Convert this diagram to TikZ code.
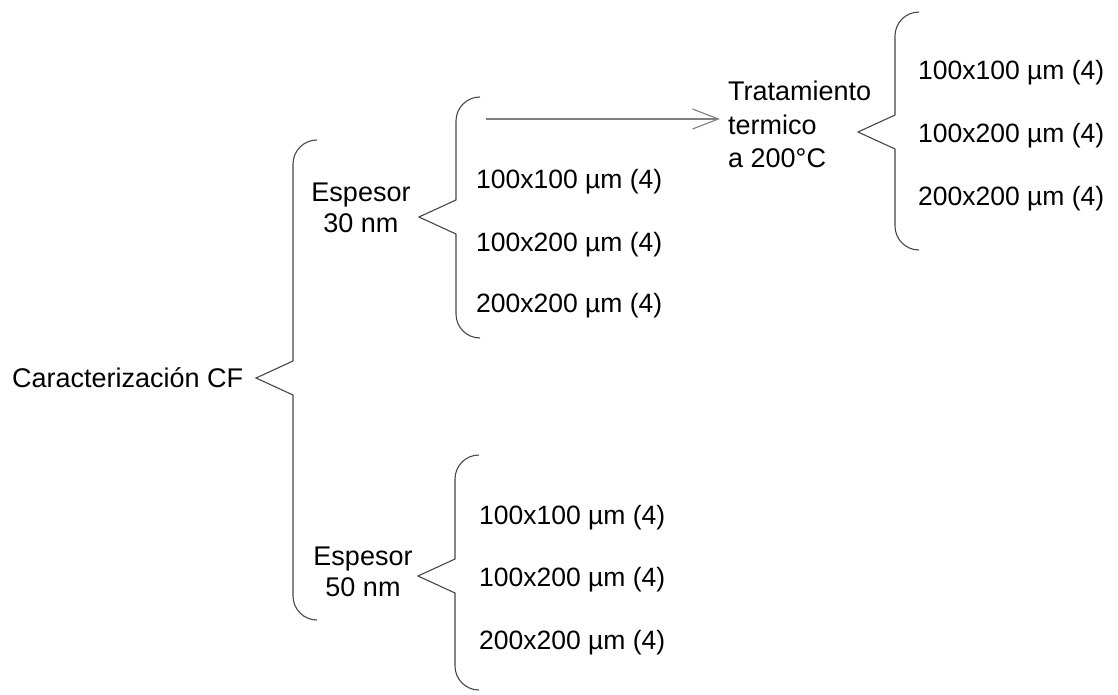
\documentclass[tikz,border=0pt]{standalone}
\usepackage{fontspec}
\setmainfont{Liberation Sans}
\usetikzlibrary{arrows.meta}
\tikzset{
  bracepath/.style={draw=black!72, line width=1.1pt, line join=miter},
  lbl/.style={inner sep=0pt, font=\fontsize{27}{31}\selectfont},
  leaf/.style={inner sep=0pt, anchor=base west, font=\fontsize{26.5}{31}\selectfont},
  flow/.style={draw=black!50, line width=1.1pt,
    -{Straight Barb[length=26pt,width=20pt,line width=1.1pt]}},
}
% curly brace opening to the right: tip x, tip y, spine x, top y, bottom y, arm half-height
\newcommand{\branchbrace}[6]{%
  \draw[bracepath] (#3+24,#4) to[out=180,in=90] (#3,#4+24) -- (#3,#2-#6)
    -- (#1,#2) -- (#3,#2+#6) -- (#3,#5-24) to[out=-90,in=180] (#3+24,#5);
}
\begin{document}
\begin{tikzpicture}[x=1pt,y=-1pt]
\useasboundingbox (0,0) rectangle (1118,695);

% root
\node[lbl, anchor=base west] (root) at (12,387) {Caracterización CF};
\branchbrace{256}{378}{293}{140}{620}{17}

% thickness 30 nm
\node[lbl, align=center, anchor=north] (e30) at (361,183) {Espesor\\30 nm};
\branchbrace{419}{217}{456}{97}{338}{17}
\node[leaf] (s30a) at (476,188.5) {100x100 µm (4)};
\node[leaf] (s30b) at (476,251.5) {100x200 µm (4)};
\node[leaf] (s30c) at (476,312.5) {200x200 µm (4)};

% heat treatment
\node[lbl, align=left, anchor=north west, font=\fontsize{27}{33.5}\selectfont] (trat) at (728,81) {Tratamiento\\termico\\a 200°C};
\coordinate (a30) at (486,119);
\draw[flow, shorten >=8pt] (a30) -- (a30 -| trat.west);
\branchbrace{858}{132}{895}{12}{250}{17}
\node[leaf] (tta) at (918,79.5) {100x100 µm (4)};
\node[leaf] (ttb) at (918,142.5) {100x200 µm (4)};
\node[leaf] (ttc) at (918,205.5) {200x200 µm (4)};

% thickness 50 nm
\node[lbl, align=center, anchor=north] (e50) at (363,547) {Espesor\\50 nm};
\branchbrace{418}{576}{455}{455}{690}{17}
\node[leaf] (s50a) at (479,524.5) {100x100 µm (4)};
\node[leaf] (s50b) at (479,586.5) {100x200 µm (4)};
\node[leaf] (s50c) at (479,649.5) {200x200 µm (4)};
\end{tikzpicture}
\end{document}
